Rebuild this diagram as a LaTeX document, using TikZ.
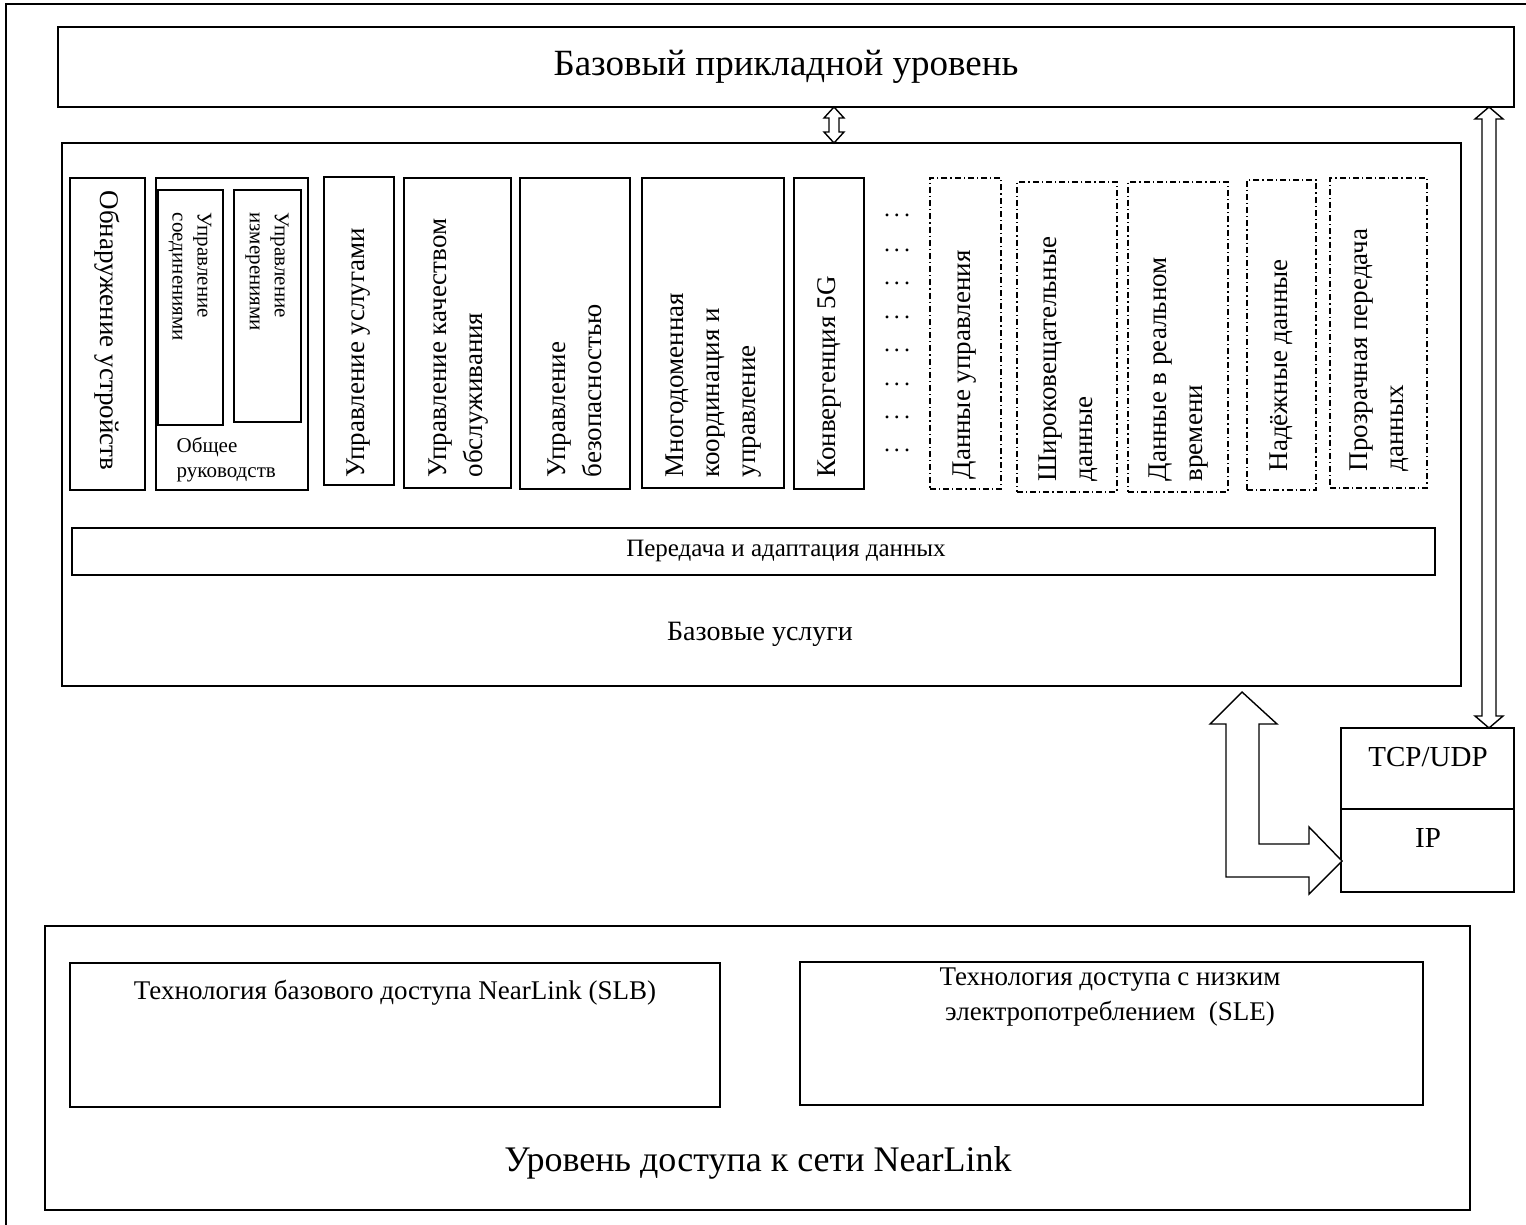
\documentclass[tikz,border=0pt]{standalone}
\usepackage{fontspec}
\setmainfont{Liberation Serif}
\usetikzlibrary{fit}
\newcommand\fsz[2]{\fontsize{#1}{#2}\selectfont}
\begin{document}
\begin{tikzpicture}[x=0.5pt,y=-0.5pt,line width=0.7pt,
  box/.style={draw, inner sep=0pt},
  dbox/.style={draw, inner sep=0pt, line width=0.6pt, dash pattern=on 3pt off 1.5pt on 0.6pt off 1.5pt},
  vtext/.style={rotate=90, anchor=west, align=left, inner sep=0pt, font=\fsz{13.5}{18}},
  vdown/.style={rotate=-90, anchor=west, align=left, inner sep=0pt},
  htext/.style={inner sep=0pt, align=center},
  dotsn/.style={inner sep=0pt, font=\fsz{12}{14}},
  harrow/.style={draw, fill=white, line width=0.7pt, line join=miter}]
\useasboundingbox (0,0) rectangle (1526,1225);
% outer frame (cut off at right and bottom)
\draw (1526,4) -- (6,4) -- (6,1225);

% top application layer
\node[box, fit={(58,27) (1514,107)}] (app) {};
\node[htext, font=\fsz{18.5}{22}] (apptxt) at (786,67) {Базовый прикладной уровень};

% basic services
\node[box, fit={(62,143) (1461,686)}] (svc) {};
\node[box, fit={(72,528) (1435,575)}] (trans) {};
\node[htext, font=\fsz{12.5}{15}] (transtxt) at (786,551) {Передача и адаптация данных};
\node[htext, font=\fsz{14}{16}] (svctxt) at (760,634) {Базовые услуги};

% vertical boxes
\node[box, fit={(70,178) (145,490)}] (b1) {};
\node[vdown, font=\fsz{13.5}{17}] (b1t) at (107,190) {Обнаружение устройств};

\node[box, fit={(156,178) (308,490)}] (b2) {};
\node[box, fit={(158,190) (223,425)}] (b2a) {};
\node[box, fit={(234,190) (301,422)}] (b2b) {};
\node[vdown, font=\fsz{10.5}{12.5}] (b2at) at (190,212) {Управление\\соединениями};
\node[vdown, font=\fsz{10.5}{12.5}] (b2bt) at (267,212) {Управление\\измерениями};
\node[anchor=north west, inner sep=0pt, align=left, font=\fsz{10.5}{12.5}] (b2t) at (176,437) {Общее\\руководств};

\node[box, fit={(324,177) (394,485)}] (b3) {};
\node[vtext] (b3t) at (359,478) {Управление услугами};

\node[box, fit={(404,178) (511,488)}] (b4) {};
\node[vtext] (b4t) at (459,478) {Управление качеством\\обслуживания};

\node[box, fit={(520,178) (630,489)}] (b5) {};
\node[vtext] (b5t) at (575,478) {Управление\\безопасностью};

\node[box, fit={(642,178) (784,488)}] (b6) {};
\node[vtext] (b6t) at (714,478) {Многодоменная\\координация и\\управление};

\node[box, fit={(794,178) (864,489)}] (b7) {};
\node[vtext] (b7t) at (829,478) {Конвергенция 5G};

\foreach \yy [count=\i] in {215,250,283,317,350,384,417,450}
  \node[dotsn] (dots\i) at (897,\yy) {.\,.\,.};

\node[dbox, fit={(930,178) (1001,489)}] (d1) {};
\node[vtext] (d1t) at (965,480) {Данные управления};
\node[dbox, fit={(1017,182) (1117,492)}] (d2) {};
\node[vtext] (d2t) at (1068,482) {Широковещательные\\данные};
\node[dbox, fit={(1128,182) (1228,492)}] (d3) {};
\node[vtext] (d3t) at (1179,482) {Данные в реальном\\времени};
\node[dbox, fit={(1247,180) (1316,490)}] (d4) {};
\node[vtext] (d4t) at (1281,472) {Надёжные данные};
\node[dbox, fit={(1330,178) (1427,488)}] (d5) {};
\node[vtext] (d5t) at (1379,472) {Прозрачная передача\\данных};

% TCP/UDP and IP
\node[box, fit={(1341,728) (1514,809)}] (tcp) {};
\node[box, fit={(1341,809) (1514,892)}] (ip) {};
\node[htext, font=\fsz{14.5}{16}] (tcpt) at (1428,757) {TCP/UDP};
\node[htext, font=\fsz{14.5}{16}] (ipt) at (1428,838) {IP};

% access layer
\node[box, fit={(45,926) (1470,1210)}] (acc) {};
\node[box, fit={(70,963) (720,1107)}] (slb) {};
\node[htext, font=\fsz{13.5}{16}] (slbt) at (395,993) {Технология базового доступа NearLink (SLB)};
\node[box, fit={(800,962) (1423,1105)}] (sle) {};
\node[htext, font=\fsz{13.5}{17.5}] (slet) at (1110,997) {Технология доступа с низким\\электропотреблением\ \ (SLE)};
\node[htext, font=\fsz{18}{22}] (acct) at (758,1163) {Уровень доступа к сети NearLink};

% small double arrow app <-> services
\draw[harrow] (834,107) -- (844,118) -- (839,118) -- (839,132) -- (844,132) -- (834,143)
  -- (824,132) -- (829,132) -- (829,118) -- (824,118) -- cycle;
% long double arrow app <-> TCP/UDP
\draw[harrow] (1489,107) -- (1503,119) -- (1496,119) -- (1496,716) -- (1503,716) -- (1489,728)
  -- (1475,716) -- (1482,716) -- (1482,119) -- (1475,119) -- cycle;
% L-shaped arrow services <-> IP
\draw[harrow] (1242,692) -- (1277,724) -- (1259,724) -- (1259,844) -- (1309,844) -- (1309,827)
  -- (1342,861) -- (1309,894) -- (1309,877) -- (1226,877) -- (1226,724) -- (1210,724) -- cycle;
\end{tikzpicture}
\end{document}
